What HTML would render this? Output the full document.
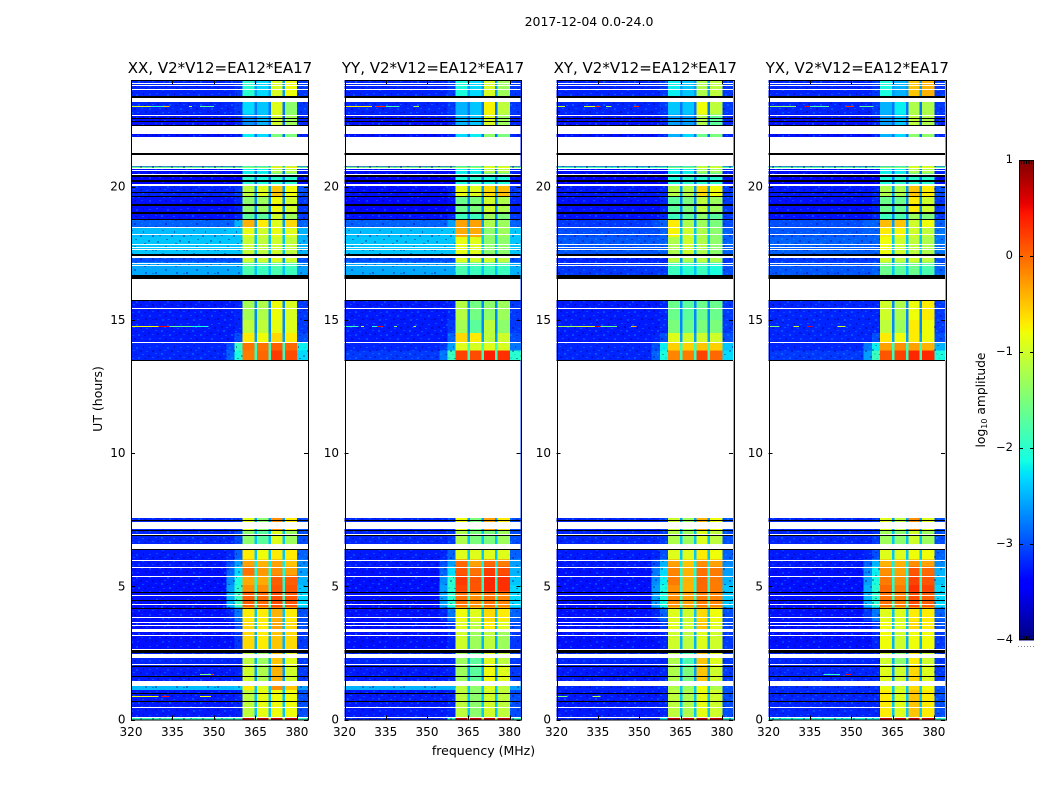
<!DOCTYPE html>
<html>
<head>
<meta charset="utf-8">
<title>2017-12-04 spectrogram</title>
<style>
html,body{margin:0;padding:0;background:#fff;width:1050px;height:800px;overflow:hidden}
svg{display:block}
text{font-family:"DejaVu Sans","Liberation Sans",sans-serif;fill:#000}
</style>
</head>
<body>
<svg id="chart" xmlns="http://www.w3.org/2000/svg" width="1050" height="800" viewBox="0 0 1050 800">
<defs>
<pattern id="speckle" width="31" height="23" patternUnits="userSpaceOnUse">
<rect x="1" y="1" width="2" height="1" fill="#00b4ff" opacity=".35"/>
<rect x="7" y="0" width="2" height="1" fill="#000078" opacity=".4"/>
<rect x="12" y="2" width="2" height="2" fill="#00b4ff" opacity=".3"/>
<rect x="19" y="1" width="1" height="2" fill="#000078" opacity=".45"/>
<rect x="25" y="2" width="2" height="1" fill="#00b4ff" opacity=".35"/>
<rect x="4" y="4" width="2" height="2" fill="#000078" opacity=".35"/>
<rect x="9" y="5" width="2" height="1" fill="#00b4ff" opacity=".35"/>
<rect x="16" y="5" width="2" height="2" fill="#000078" opacity=".35"/>
<rect x="22" y="6" width="2" height="1" fill="#00b4ff" opacity=".3"/>
<rect x="28" y="5" width="2" height="2" fill="#000078" opacity=".4"/>
<rect x="0" y="8" width="2" height="1" fill="#00b4ff" opacity=".3"/>
<rect x="6" y="8" width="2" height="2" fill="#00b4ff" opacity=".35"/>
<rect x="11" y="9" width="2" height="1" fill="#000078" opacity=".4"/>
<rect x="18" y="9" width="2" height="1" fill="#00b4ff" opacity=".35"/>
<rect x="24" y="10" width="2" height="2" fill="#000078" opacity=".35"/>
<rect x="2" y="11" width="2" height="2" fill="#000078" opacity=".35"/>
<rect x="14" y="12" width="2" height="2" fill="#00b4ff" opacity=".35"/>
<rect x="20" y="13" width="2" height="1" fill="#000078" opacity=".4"/>
<rect x="28" y="12" width="2" height="1" fill="#00b4ff" opacity=".35"/>
<rect x="8" y="13" width="2" height="1" fill="#00b4ff" opacity=".3"/>
<rect x="4" y="16" width="2" height="1" fill="#00b4ff" opacity=".35"/>
<rect x="10" y="16" width="2" height="2" fill="#000078" opacity=".35"/>
<rect x="17" y="16" width="2" height="1" fill="#00b4ff" opacity=".3"/>
<rect x="25" y="16" width="2" height="2" fill="#00b4ff" opacity=".3"/>
<rect x="0" y="19" width="2" height="2" fill="#000078" opacity=".4"/>
<rect x="13" y="20" width="2" height="1" fill="#00b4ff" opacity=".35"/>
<rect x="21" y="19" width="2" height="2" fill="#000078" opacity=".35"/>
<rect x="28" y="20" width="2" height="1" fill="#000078" opacity=".35"/>
<rect x="7" y="20" width="2" height="2" fill="#00b4ff" opacity=".3"/>
</pattern>
</defs>
<text x="589" y="26" font-size="12.5" text-anchor="middle">2017-12-04 0.0-24.0</text>
<text x="483.5" y="755" font-size="12.5" text-anchor="middle">frequency (MHz)</text>
<text transform="translate(102,399) rotate(-90)" font-size="12.5" text-anchor="middle">UT (hours)</text>
<text transform="translate(985,400) rotate(-90)" font-size="12.3" text-anchor="middle">log<tspan font-size="8" dy="2">10</tspan><tspan dy="-2"> amplitude</tspan></text>
</svg>
<script>
// Axis tick values and labels
const freqTicks = [320, 335, 350, 365, 380];
const hourTicks = [0, 5, 10, 15, 20];
const colorbarTicks = [1, 0, -1, -2, -3, -4];
const panelTitles = ["XX, V2*V12=EA12*EA17", "YY, V2*V12=EA12*EA17", "XY, V2*V12=EA12*EA17", "YX, V2*V12=EA12*EA17"];

// Time bin edges in hours, top to bottom; one row of levels per bin
const timeEdges = [24,23.35,22.7,22,20.75,20.66,20.5,20.1,19.65,19.05,18.75,18.48,18.1,17.45,17.15,16.55,15.75,15,14.5,14.17,13.85,13.45,7.56,7.1,6.4,6,5.75,5.4,5.05,4.8,4.2,3.7,3.3,2.6,2,1.45,1.1,0.1,0];
// Rows 16.55->15.75 and 13.45->7.56 are data gaps (covered by whiteBands); they use filler rows.

// Frequency edges in MHz: below band, two shoulder bins, four sub-bands with notches, above band
const skyFreqEdges = [[320,354.5],[354.5,357.5],[357.5,360.4],[380,384]];
const bandFreqEdges = [[360.4,364.7],[365.5,369.8],[370.6,374.8],[375.6,380]];
const notchFreqEdges = [[364.7,365.5],[369.8,370.6],[374.8,375.6]];

// Notch log10 amplitude per time row
const notchLevels = [-2.6,-2.8,-2.9,-2.8,-1.6,-2.8,-2.8,-2.6,-2.7,-2.7,-2.6,-2.4,-2.4,-2.6,-2.4,-3,-2.7,-2.7,-2.6,-1.9,-1.9,-3,-2.6,-2.4,-2.4,-2.2,-2.1,-2,-2,-1.9,-2.4,-2.4,-2.5,-2.5,-2.6,-2.4,-2.4,-1.2];

// Sky levels per time row: [below, shoulder1, shoulder2, above]
const skyXX = [[-3.2,-3.2,-3.1,-3.1],[-3.2,-3.2,-3.1,-3.1],[-3.3,-3.3,-3.2,-3.2],[-3.3,-3.3,-3.2,-3.2],[-1.6,-1.6,-1.6,-1.6],[-3.3,-3.3,-3.3,-3.2],[-3.4,-3.4,-3.4,-3.3],[-3.2,-3.2,-3.1,-3],[-3.3,-3.3,-3.2,-3.1],[-3.3,-3.3,-3.2,-3.1],[-2.9,-2.9,-2.5,-2.9],[-2.45,-2.4,-2.4,-2.5],[-2.4,-2.4,-2.4,-2.5],[-3,-3,-3,-3],[-2.55,-2.55,-2.55,-2.6],[-3,-3,-3,-3],[-3.25,-3.25,-3.2,-3.1],[-3.25,-3.25,-3.2,-3.1],[-3.25,-3.25,-3,-3],[-3.2,-3,-1.9,-2.2],[-3.2,-2.9,-2.1,-2.3],[-3,-3,-3,-3],[-3.2,-3.2,-3.1,-3],[-3.2,-3.2,-3,-3],[-3.25,-3.2,-2.9,-2.9],[-3.25,-3,-2.6,-2.7],[-3.3,-2.9,-2.3,-2.6],[-3.3,-2.7,-2.1,-2.5],[-3.3,-2.6,-2,-2.4],[-3.3,-2.5,-1.9,-2.3],[-3.3,-3.2,-2.8,-3],[-3.3,-3.3,-3,-3],[-3.3,-3.3,-3.1,-3.1],[-3.2,-3.2,-3.2,-3.1],[-3.25,-3.25,-3.2,-3.1],[-2.45,-2.45,-2.4,-2.6],[-3.25,-3.25,-3.2,-3],[-1.9,-1.9,-1.9,-1.9]];
const skyYY = [[-3.2,-3.2,-3.1,-3.1],[-3.2,-3.2,-3.1,-3.1],[-3.3,-3.3,-3.2,-3.2],[-3.3,-3.3,-3.2,-3.2],[-1.5,-1.5,-1.5,-1.5],[-3.3,-3.3,-3.3,-3.2],[-3.4,-3.4,-3.4,-3.3],[-3.3,-3.3,-3.2,-3.1],[-3.35,-3.35,-3.3,-3.2],[-3.3,-3.3,-3.2,-3.1],[-2.9,-2.9,-2.6,-2.9],[-2.45,-2.4,-2.4,-2.4],[-2.4,-2.4,-2.4,-2.4],[-3,-3,-3,-3],[-2.55,-2.55,-2.55,-2.5],[-3,-3,-3,-3],[-3.25,-3.25,-3.2,-3.1],[-3.25,-3.25,-3.1,-3.1],[-3.25,-3.25,-2.9,-3],[-3.2,-3.1,-2.6,-2.8],[-3.1,-2.8,-1.9,-2],[-3,-3,-3,-3],[-3.2,-3.2,-3.1,-3],[-3.2,-3.2,-3.1,-3],[-3.25,-3.2,-2.9,-2.9],[-3.25,-3,-2.6,-2.6],[-3.3,-2.9,-2.3,-2.5],[-3.3,-2.7,-2,-2.4],[-3.3,-2.6,-2,-2.3],[-3.3,-2.6,-2,-2.3],[-3.3,-3.2,-2.8,-2.9],[-3.3,-3.3,-3.1,-3],[-3.3,-3.3,-3.2,-3.1],[-3.2,-3.2,-3.2,-3.1],[-3.25,-3.25,-3.2,-3.1],[-2.5,-2.5,-2.5,-2.6],[-3.25,-3.25,-3.2,-3],[-3.2,-3.2,-2,-1.9]];
const skyXY = [[-3.2,-3.2,-3.1,-3.1],[-3.2,-3.2,-3.1,-3.1],[-3.3,-3.3,-3.2,-3.2],[-3.3,-3.3,-3.2,-3.2],[-1.8,-1.8,-1.8,-1.8],[-3.3,-3.3,-3.3,-3.2],[-3.4,-3.4,-3.4,-3.3],[-3.25,-3.25,-3.2,-3.1],[-3.3,-3.3,-3.2,-3.1],[-3.3,-3.3,-3.2,-3.1],[-3.1,-3,-2.9,-3],[-3,-3,-2.9,-2.9],[-2.95,-2.95,-2.9,-2.9],[-3.2,-3.2,-3.2,-3.1],[-3.1,-3.1,-3.1,-3],[-3,-3,-3,-3],[-3.25,-3.25,-3.2,-3.1],[-3.25,-3.25,-3.2,-3.1],[-3.25,-3.2,-3,-3],[-3.2,-3,-2.2,-2.4],[-3.2,-2.9,-2.1,-2.3],[-3,-3,-3,-3],[-3.2,-3.2,-3.1,-3],[-3.2,-3.2,-3.1,-3],[-3.25,-3.2,-3,-2.9],[-3.25,-3,-2.5,-2.7],[-3.3,-2.8,-2.3,-2.6],[-3.3,-2.7,-2.2,-2.5],[-3.3,-2.6,-2.1,-2.4],[-3.3,-2.6,-2.1,-2.4],[-3.3,-3.2,-2.9,-3],[-3.3,-3.3,-3.1,-3],[-3.3,-3.3,-3.2,-3.1],[-3.2,-3.2,-3.2,-3.1],[-3.25,-3.25,-3.2,-3.1],[-3.2,-3.2,-3.2,-3],[-3.25,-3.25,-3.2,-3],[-3.2,-3.2,-2.2,-2]];
const skyYX = [[-3.2,-3.2,-3.1,-3.1],[-3.2,-3.2,-3.1,-3.1],[-3.3,-3.3,-3.2,-3.2],[-3.3,-3.3,-3.2,-3.2],[-1.7,-1.7,-1.7,-1.7],[-3.3,-3.3,-3.3,-3.2],[-3.4,-3.4,-3.4,-3.3],[-3.25,-3.25,-3.2,-3],[-3.3,-3.3,-3.2,-3.1],[-3.3,-3.3,-3.2,-3.1],[-3,-2.9,-2.9,-2.9],[-2.95,-2.9,-2.9,-2.8],[-2.9,-2.9,-2.9,-2.8],[-3.1,-3.1,-3.1,-3],[-2.95,-2.95,-2.9,-2.9],[-3,-3,-3,-3],[-3.2,-3.2,-3.2,-3.1],[-3.2,-3.2,-3.2,-3.1],[-3.2,-3.2,-3,-3],[-3.2,-2.8,-2.2,-2.5],[-3.1,-2.6,-1.9,-2.1],[-3,-3,-3,-3],[-3.2,-3.2,-3.1,-3],[-3.2,-3.2,-3.1,-3],[-3.25,-3.2,-3,-2.9],[-3.25,-2.9,-2.5,-2.7],[-3.3,-2.7,-2.2,-2.5],[-3.3,-2.6,-2.1,-2.4],[-3.3,-2.5,-2,-2.3],[-3.3,-2.5,-2,-2.3],[-3.3,-3.1,-2.8,-2.9],[-3.3,-3.3,-3.1,-3],[-3.3,-3.3,-3.2,-3.1],[-3.2,-3.2,-3.2,-3.1],[-3.2,-3.2,-3.2,-3.1],[-3.15,-3.15,-3.15,-3],[-3.2,-3.2,-3.2,-3],[-2.1,-2.1,-2.1,-1.9]];

// Sub-band levels per time row: [band1, band2, band3, band4]
const bandXX = [[-2,-2.3,-0.95,-0.8],[-2.3,-2.4,-0.9,-1.4],[-2.7,-2.5,-1,-1.3],[-2.2,-2.3,-1.5,-1.5],[-1.4,-1.4,-0.7,-0.7],[-2.2,-2.2,-1.2,-1.2],[-2,-2.1,-2,-2],[-1.1,-0.9,-0.5,-0.8],[-1.4,-1.3,-0.8,-1],[-1.7,-1.7,-1,-1.3],[-0.4,-0.7,-0.9,-0.6],[-0.85,-1,-0.85,-0.9],[-1.05,-1.1,-1,-1.1],[-1,-1,-0.9,-1],[-1.8,-1.9,-1.8,-1.9],[-3,-3,-3,-3],[-1.25,-1.2,-0.8,-0.95],[-1.1,-1.1,-0.85,-0.9],[-0.7,-0.8,-0.6,-0.7],[-0.05,-0.05,0.05,0],[-0.1,0,0.25,0.15],[-3,-3,-3,-3],[-0.9,-1.4,-0.2,-0.7],[-1.4,-1.7,-0.9,-1.3],[-0.7,-0.8,-0.7,-0.7],[-0.3,-0.4,-0.3,-0.5],[-0.05,-0.25,-0.2,-0.3],[-0.35,-0.35,0.05,0.05],[-0.2,-0.2,0.1,0.1],[0.05,0,0.15,0.1],[-0.7,-0.7,-0.4,-0.7],[-0.6,-0.7,-0.3,-0.6],[-0.6,-0.7,-0.5,-0.6],[-1.1,-1.3,-0.5,-0.9],[-1,-1.2,-0.4,-1],[-0.7,-0.9,-0.2,-0.5],[-1.1,-0.85,-0.8,-0.8],[0.7,0.7,0.7,0.7]];
const bandYY = [[-2.1,-2.3,-0.95,-1.3],[-2.5,-2.4,-0.75,-1.1],[-2.5,-2.4,-0.95,-1.3],[-2.3,-2.2,-1.4,-1.5],[-1.3,-1.3,-0.8,-0.8],[-2.2,-2.2,-1.2,-1.2],[-2.1,-2,-2.1,-2.1],[-0.85,-0.9,-0.6,-0.45],[-1.6,-1.5,-1,-1.2],[-1.9,-1.9,-1.3,-1.5],[-0.3,-0.3,-1.2,-1.3],[-0.35,-0.35,-1.4,-1.3],[-0.85,-0.9,-1.4,-1.4],[-0.9,-1,-1,-1.1],[-1.8,-1.9,-1.9,-1.9],[-3,-3,-3,-3],[-1.15,-1.55,-1.4,-1.3],[-1.25,-1.7,-1.1,-1.4],[-0.6,-0.7,-1.1,-1],[-0.9,-0.95,-0.9,-0.95],[0.2,0.15,0.4,0.3],[-3,-3,-3,-3],[-0.8,-1.5,-0.3,-0.7],[-1.2,-1.5,-1.5,-1.3],[-0.9,-0.9,-0.9,-0.9],[0,-0.3,0,-0.1],[0.1,-0.05,0.25,0.15],[0.25,0.1,0.35,0.3],[0.2,0.1,0.35,0.3],[-0.05,-0.2,-0.05,-0.15],[-0.8,-0.9,-0.6,-0.7],[-0.9,-1.1,-0.7,-0.9],[-1,-1.3,-1.1,-1.3],[-1.3,-1.7,-0.9,-1.1],[-1.3,-1.7,-0.8,-0.9],[-1.1,-1.4,-0.9,-1.1],[-1.1,-1.4,-1,-1.1],[0.7,0.7,0.7,0.7]];
const bandXY = [[-2.2,-2.4,-1.2,-1.1],[-2.4,-2.4,-0.8,-1.1],[-2.6,-2.6,-1.2,-1.7],[-2.5,-2.3,-1.6,-1.5],[-1.5,-1.5,-0.9,-0.9],[-2.2,-2.2,-1.3,-1.3],[-2.1,-2,-2,-2],[-1.15,-1.15,-0.6,-0.8],[-1.7,-1.5,-1.1,-1.3],[-1.9,-1.7,-1.4,-1.7],[-0.7,-1.2,-1.3,-1.5],[-0.75,-1,-1.2,-1.4],[-1.2,-1,-1.2,-1.4],[-1.1,-1.2,-1.1,-1.2],[-1.9,-2,-1.9,-2.1],[-3,-3,-3,-3],[-1.6,-1.7,-1.6,-1.6],[-1.5,-1.6,-1.5,-1.5],[-0.9,-1,-1,-1],[-0.55,-0.55,-0.5,-0.55],[-0.15,-0.1,0.2,0],[-3,-3,-3,-3],[-1,-1.3,-0.4,-0.8],[-1.2,-1.3,-0.9,-1.1],[-0.9,-0.9,-0.7,-0.8],[-0.3,-0.5,-0.2,-0.3],[-0.15,-0.4,-0.05,-0.1],[-0.1,-0.4,0,-0.1],[-0.2,-0.4,0,-0.1],[-0.2,-0.3,-0.1,-0.15],[-0.9,-1,-0.6,-0.8],[-0.9,-1,-0.5,-0.9],[-1,-1.1,-0.9,-1],[-1.2,-1.8,-0.5,-0.9],[-1.2,-1.5,-0.5,-1],[-1.2,-1.3,-0.8,-1.2],[-1.1,-1.2,-0.85,-1],[0.7,0.7,0.7,0.7]];
const bandYX = [[-2.1,-2.5,-0.5,-0.4],[-2.5,-2.2,-1.2,-1.2],[-2.6,-2.4,-1.1,-1.2],[-2.5,-2.3,-1.4,-1.4],[-1.4,-1.4,-0.8,-0.8],[-2.2,-2.2,-1.2,-1.2],[-2.1,-2,-2,-2],[-1.2,-1.2,-0.5,-0.7],[-1.6,-1.6,-0.7,-1],[-1.9,-1.8,-1.3,-1.5],[-0.45,-0.5,-1,-0.8],[-0.7,-0.75,-1,-1.1],[-0.8,-1,-1.1,-1.2],[-1,-1.1,-1,-1.1],[-1.6,-1.7,-1.6,-1.8],[-3,-3,-3,-3],[-1,-1.2,-0.8,-0.7],[-1.1,-1.3,-0.7,-0.8],[-0.7,-0.8,-0.7,-0.8],[-0.3,-0.2,-0.3,-0.4],[0.1,0.2,0.35,0.35],[-3,-3,-3,-3],[-0.9,-1.1,-0.2,-0.9],[-1.3,-1.4,-1,-1.3],[-0.9,-0.9,-0.8,-0.8],[-0.4,-0.4,-0.2,-0.3],[-0.2,-0.3,0.1,0],[-0.1,-0.2,0.2,0.1],[0,-0.1,0.3,0.2],[-0.05,-0.1,0.15,0.05],[-0.9,-0.9,-0.7,-0.7],[-0.8,-0.9,-0.6,-0.7],[-0.8,-1,-0.8,-0.8],[-1,-1.4,-0.7,-1],[-0.9,-1,-0.6,-0.9],[-0.85,-1,-0.6,-0.8],[-0.7,-0.9,-0.5,-0.7],[0.7,0.7,0.7,0.7]];

// Data gaps [startHour, endHour] shared across polarisations
const whiteBands = [[23.89,23.86],[23.8,23.77],[23.65,23.61],[23.33,23.18],[22.68,22.63],[22.28,21.97],[21.86,21.25],[21.19,20.77],[20.71,20.69],[20.62,20.6],[20.48,20.46],[20.1,20.03],[18.47,18.45],[18.22,18.2],[17.86,17.81],[17.75,17.7],[17.67,17.65],[17.41,17.34],[17.14,17.12],[17.05,17.03],[16.52,15.74],[15.46,15.43],[14.16,14.13],[13.47,7.56],[7.42,7.15],[6.98,6.95],[6.58,6.39],[6,5.98],[5.74,5.72],[5.4,5.38],[4.69,4.67],[4.35,4.33],[3.86,3.84],[3.66,3.64],[3.56,3.54],[3.4,3.28],[3.17,3.15],[2.66,2.64],[2.47,2.31],[2.1,2.08],[1.46,1.29],[0.46,0.44],[0.08,0.05]];
const blackBands = [[23.4,23.33],[22.58,22.55],[22.46,22.43],[22.32,22.28],[21.25,21.19],[20.43,20.37],[20.24,20.15],[19.79,19.75],[19.63,19.59],[19.34,19.28],[19.06,19],[18.8,18.75],[17.48,17.42],[17.34,17.29],[16.67,16.52],[15.74,15.71],[13.5,13.47],[7.47,7.44],[7.12,7.07],[6.91,6.89],[6.39,6.34],[4.79,4.76],[4.5,4.47],[4.2,4.18],[2.6,2.5],[2.02,2],[1.64,1.6],[0.98,0.96],[0.68,0.66]];

// Narrow interference lines: [hour, startMHz, endMHz, level]
const rfiXX = [[23.02,320,327,-0.9],[23.02,327,332,-1.9],[23.02,332,334,-0.5],[23.02,341,342,-1],[23.02,345,350,-1.7],[14.76,320,330,-0.8],[14.76,330,334,0.5],[14.76,334,342,-1.7],[14.76,342,348,-2.1],[0.88,320,330,-0.8],[0.88,331,334,0.4],[0.88,345,349,-0.8],[1.72,345,349,-1.5],[1.72,349,350,0.3]];
const rfiYY = [[23.02,320,330,-0.7],[23.02,331,335,0.3],[23.02,335,340,-1.8],[23.02,345,347,-1.2],[14.76,320,325,-1.9],[14.76,326,327,-0.9],[14.76,330,332,-2],[14.76,332,334,0.5],[14.76,338,339,-1.5],[14.76,345,346,-1]];
const rfiXY = [[23.02,320,323,-1],[23.02,330,334,-0.9],[23.02,334,336,0.3],[23.02,338,340,-1.2],[23.02,348,350,0.3],[14.76,320,328,-1.3],[14.76,328,334,-1],[14.76,334,336,0.6],[14.76,336,342,-1.6],[14.76,347,349,-0.4],[0.88,320,324,-1.5],[0.88,333,336,-1.2]];
const rfiYX = [[23.02,320,330,-1.4],[23.02,333,335,0.5],[23.02,335,342,-1.8],[23.02,348,351,0.3],[23.02,353,358,-1.7],[14.76,320,324,-1.5],[14.76,329,331,-1],[14.76,334,336,0.5],[14.76,345,348,-1],[1.72,340,346,-2],[1.72,348,350,0.5]];

// Layout
const plotTop = 80, plotBottom = 719.5, fMin = 320, fMax = 384, hMax = 24;
const panels = [
  {left:131, right:308, sky:skyXX, band:bandXX, rfi:rfiXX, key:'xx'},
  {left:344.5, right:520.5, sky:skyYY, band:bandYY, rfi:rfiYY, key:'yy'},
  {left:556.5, right:733, sky:skyXY, band:bandXY, rfi:rfiXY, key:'xy'},
  {left:768.5, right:945, sky:skyYX, band:bandYX, rfi:rfiYX, key:'yx'}
];
const cbar = {left:1019, right:1034, top:160, bottom:640, vMin:-4, vMax:1};

const NS = 'http://www.w3.org/2000/svg';
const chart = document.getElementById('chart');
function make(tag, attrs, parent) {
  const el = document.createElementNS(NS, tag);
  for (const k in attrs) el.setAttribute(k, attrs[k]);
  parent.appendChild(el);
  return el;
}
function lerp(t, pts) {
  for (let i = 1; i < pts.length; i++) {
    if (t <= pts[i][0]) {
      const a = pts[i-1], b = pts[i];
      return a[1] + (b[1]-a[1]) * (t-a[0]) / (b[0]-a[0]);
    }
  }
  return pts[pts.length-1][1];
}
function jet(v) {
  const t = Math.max(0, Math.min(1, (v - cbar.vMin) / (cbar.vMax - cbar.vMin)));
  const r = lerp(t, [[0,0],[0.35,0],[0.66,1],[0.89,1],[1,0.5]]);
  const g = lerp(t, [[0,0],[0.125,0],[0.375,1],[0.64,1],[0.91,0],[1,0]]);
  const b = lerp(t, [[0,0.5],[0.11,1],[0.34,1],[0.65,0],[1,0]]);
  return 'rgb(' + Math.round(r*255) + ',' + Math.round(g*255) + ',' + Math.round(b*255) + ')';
}
function yOf(h) { return plotBottom - h * (plotBottom - plotTop) / hMax; }
function xOf(p, f) { return p.left + (f - fMin) * (p.right - p.left) / (fMax - fMin); }

panels.forEach(function (p, pi) {
  const g = make('g', {'shape-rendering':'crispEdges'}, chart);
  
  

  function cell(f0, f1, row, v) {
    const y0 = yOf(timeEdges[row]), y1 = yOf(timeEdges[row+1]);
    const r = make('rect', {x:xOf(p,f0), y:y0, width:xOf(p,f1)-xOf(p,f0)+0.3, height:y1-y0+0.3, fill:jet(v)}, g);
    
    
  }
  for (let row = 0; row < timeEdges.length - 1; row++) {
    const skyRow = p.sky[row], bandRow = p.band[row], notch = notchLevels[row];
    skyFreqEdges.forEach(function (e, i) { cell(e[0], e[1], row, skyRow[i]); });
    bandFreqEdges.forEach(function (e, i) { cell(e[0], e[1], row, bandRow[i]); });
    notchFreqEdges.forEach(function (e) { cell(e[0], e[1], row, notch); });
  }

  // Speckle only over the sky columns; the sub-bands are smooth in the reference
  [[fMin, bandFreqEdges[0][0]], [bandFreqEdges[3][1], fMax]].forEach(function (span) {
    const tex = make('rect', {x:xOf(p,span[0]), y:plotTop, width:xOf(p,span[1])-xOf(p,span[0]), height:plotBottom-plotTop, fill:'url(#speckle)'}, g);
    
    
  });

  function hband(b, colour, name) {
    const y0 = yOf(b[0]), y1 = yOf(b[1]);
    const r = make('rect', {x:p.left, y:Math.round(y0), width:p.right-p.left, height:Math.max(1, Math.round(y1-y0)), fill:colour}, g);
    
    
  }
  blackBands.forEach(function (b) { hband(b, '#000', 'flagged-black-band'); });
  whiteBands.forEach(function (b) { hband(b, '#fff', 'missing-data-band'); });

  p.rfi.forEach(function (l) {
    const r = make('rect', {x:xOf(p,l[1]), y:Math.round(yOf(l[0])), width:xOf(p,l[2])-xOf(p,l[1]), height:1, fill:jet(l[3])}, g);
    
    
  });

  // Frame and ticks
  const frame = make('rect', {x:Math.round(p.left)+0.5, y:plotTop+0.5, width:Math.round(p.right-p.left), height:plotBottom-plotTop, fill:'none', stroke:'#000', 'stroke-width':1}, chart);
  
  

  freqTicks.forEach(function (f) {
    const x = Math.round(xOf(p, f)) + 0.5;
    [[plotBottom, plotBottom-4], [plotTop, plotTop+4]].forEach(function (s) {
      const t = make('line', {x1:x, x2:x, y1:s[0], y2:s[1], stroke:'#000', 'stroke-width':1}, chart);
      
      
    });
    const lab = make('text', {x:xOf(p,f), y:736, 'font-size':12, 'text-anchor':'middle'}, chart);
    
    
    lab.textContent = f;
  });
  hourTicks.forEach(function (h) {
    const y = Math.round(yOf(h)) + 0.5;
    [[p.left, p.left+4], [p.right, p.right-4]].forEach(function (s) {
      const t = make('line', {x1:s[0], x2:s[1], y1:y, y2:y, stroke:'#000', 'stroke-width':1}, chart);
      
      
    });
    const lab = make('text', {x:p.left-5.5, y:yOf(h)+4, 'font-size':12, 'text-anchor':'end'}, chart);
    
    
    lab.textContent = h;
  });
  const title = make('text', {x:(p.left+p.right)/2+0.5, y:73, 'font-size':15, 'text-anchor':'middle'}, chart);
  
  
  title.textContent = panelTitles[pi];
});

// Colorbar
const cg = make('g', {'shape-rendering':'crispEdges'}, chart);


function cbY(v) { return cbar.top + (cbar.vMax - v) * (cbar.bottom - cbar.top) / (cbar.vMax - cbar.vMin); }
for (let i = 0; i < 256; i++) {
  const v0 = cbar.vMin + i * (cbar.vMax - cbar.vMin) / 256;
  const v1 = cbar.vMin + (i + 1) * (cbar.vMax - cbar.vMin) / 256;
  const r = make('rect', {x:cbar.left, y:cbY(v1), width:cbar.right-cbar.left, height:cbY(v0)-cbY(v1)+0.4, fill:jet((v0+v1)/2)}, cg);
  
  
}
const cf = make('rect', {x:cbar.left+0.5, y:cbar.top+0.5, width:cbar.right-cbar.left-1, height:cbar.bottom-cbar.top-1, fill:'none', stroke:'#000'}, cg);


colorbarTicks.forEach(function (v) {
  const y = Math.round(cbY(v)) - (v === cbar.vMin ? 1 : 0) + 0.5;
  [[cbar.left, cbar.left+4], [cbar.right, cbar.right-4]].forEach(function (s) {
    const t = make('line', {x1:s[0], x2:s[1], y1:y, y2:y, stroke:'#000'}, cg);
    
    
  });
  const lab = make('text', {x:cbar.left-6, y:cbY(v)+3, 'font-size':11.5, 'text-anchor':'end'}, chart);
  
  
  lab.textContent = String(v).replace('-', '\u2212');
});
for (let i = 0; i < 5; i++) {
  const x = cbar.left + 2.5 + i * 2.5;
  [[cbar.top, cbar.top+4], [cbar.bottom, cbar.bottom-4]].forEach(function (s) {
    const t = make('line', {x1:x, x2:x, y1:s[0], y2:s[1], stroke:'#000'}, cg);
    
    
  });
}
const dots = make('line', {x1:cbar.left-1, x2:cbar.right+1, y1:646.5, y2:646.5, stroke:'#888', 'stroke-dasharray':'1 2'}, cg);


</script>
</body>
</html>
